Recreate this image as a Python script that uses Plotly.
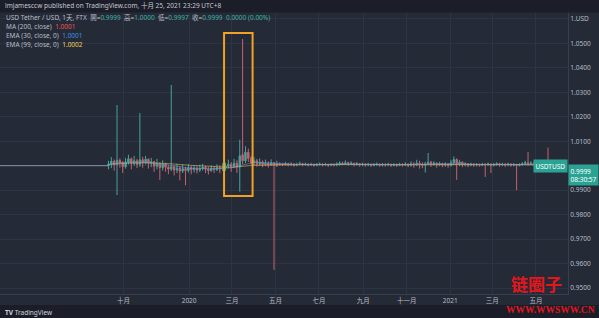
import plotly.graph_objects as go
from datetime import date, timedelta

# ---------------- data (price offsets in pips = 1e-4 from 1.0000) ----------------
bar_start = date(2019, 9, 10)   # first FTX bar (4-day bars)
bar_days = 4

open_p = [0, 6, 18, 4, 22, 12, -4, 14, 28, 10,
          20, 6, 24, 12, 26, 10, 16, -2, 10, -8,
          6, -6, -14, -4, -18, -10, -22, -12, -20, -8,
          -16, -10, -18, -12, -6, -14, -20, -10, -16, -8,
          -14, -8, -2, 6, -4, 10, -5, 45, 20, 55,
          30, 12, 20, 8, 14, 6, 10, 4, 12, 2,
          8, 6, 4, 8, 3, 6, 2, 5, 8, 4,
          6, 3, 5, 2, 4, 6, 3, 5, 2, 4,
          3, 6, 10, 8, 12, 7, 10, 5, 8, 4,
          6, 3, 5, 2, 4, 6, 2, 4, 3, 5,
          2, 4, 2, 5, 3, 6, 2, 8, 4, 10,
          6, 2, 8, 14, 6, 10, 4, 8, 3, 6,
          2, 12, 25, 8, 14, 4, 8, 2, 6, 3,
          5, 2, 6, 3, 7, 2, 5, 8, 4, 6,
          3, 6, 2, 5, 1, 4, 8, 12, 6, 10, 5, 8, 3, 6, 2, -1]
high_p = [20, 35, 25, 248, 30, 18, 32, 45, 33, 40,
          28, 215, 36, 40, 30, 32, 20, 28, 14, 22,
          12, 2, 330, 0, 8, -2, 5, -5, 6, 0,
          2, 0, 4, 8, 0, -4, 2, -2, 6, 2,
          10, 12, 25, 15, 28, 22, 106, 518, 80, 70,
          40, 35, 28, 30, 22, 25, 18, 26, 15, 20,
          14, 12, 16, 12, 14, 10, 12, 16, 12, 13,
          10, 12, 9, 11, 13, 10, 12, 8, 10, 9,
          14, 18, 16, 22, 16, 18, 12, 15, 11, 12,
          10, 12, 9, 11, 13, 9, 11, 10, 12, 9,
          10, 9, 12, 10, 14, 10, 18, 14, 24, 20,
          14, 16, 52, 20, 18, 14, 16, 12, 14, 10,
          24, 38, 30, 24, 18, 14, 10, 12, 10, 11,
          9, 12, 10, 13, 9, 11, 14, 12, 12, 10,
          12, 10, 11, 8, 10, 15, 20, 56, 18, 14, 15, 10, 12, 9, 74, 0]
low_p = [-15, -10, -20, -120, -8, -30, -12, 5, -15, 0,
         -10, -5, -8, 5, -12, -6, -25, -15, -58, -20,
         -25, -35, -22, -40, -30, -60, -30, -80, -28, -35,
         -28, -32, -26, -20, -30, -36, -25, -30, -22, -30,
         -22, -20, -12, -25, -10, -30, -106, 5, 10, 15,
         5, 2, -4, 0, -6, -2, -8, 0, -426, -5,
         0, -2, 1, -3, 0, -4, -2, 1, -2, 0,
         -3, -1, -4, -2, 0, -3, -1, -5, -2, -3,
         -2, 0, 2, 3, 0, 2, -3, 0, -4, -2,
         -4, -2, -5, -3, -1, -4, -3, -4, -2, -5,
         -3, -5, -2, -4, -1, -6, -4, -8, -2, -12,
         -10, -28, 2, -5, 0, -8, -2, -6, -4, -8,
         -4, 2, -58, -2, -6, -3, -6, -2, -5, -3,
         -4, -2, -46, 0, -30, -3, 0, -4, -2, -5,
         -2, -4, -3, -100, -3, 0, 2, 0, 2, -2, 0, -4, -2, -5, -4, -3]
close_p = [6, 18, 4, 22, 12, -4, 14, 28, 10, 20,
           6, 24, 12, 26, 10, 16, -2, 10, -8, 6,
           -6, -14, -4, -18, -10, -22, -12, -20, -8, -16,
           -10, -18, -12, -6, -14, -20, -10, -16, -8, -14,
           -8, -2, 6, -4, 10, -5, 40, 20, 55, 30,
           12, 20, 8, 14, 6, 10, 4, 12, 2, 8,
           6, 4, 8, 3, 6, 2, 5, 8, 4, 6,
           3, 5, 2, 4, 6, 3, 5, 2, 4, 3,
           6, 10, 8, 12, 7, 10, 5, 8, 4, 6,
           3, 5, 2, 4, 6, 2, 4, 3, 5, 2,
           4, 2, 5, 3, 6, 2, 8, 4, 10, 6,
           2, 8, 14, 6, 10, 4, 8, 3, 6, 2,
           12, 25, 8, 14, 4, 8, 2, 6, 3, 5,
           2, 6, 3, 7, 2, 5, 8, 4, 6, 3,
           6, 2, 5, 1, 4, 8, 12, 6, 10, 5, 8, 3, 6, 2, 1, -1]

# flat segment before trading starts
flat_dates = ["2019-04-11", "2019-09-10"]
flat_price = [1.0000, 1.0000]

# moving averages (pips)
ma_dates = ["2019-09-10", "2019-10-01", "2019-11-01", "2019-12-01", "2020-01-01", "2020-02-01",
            "2020-03-01", "2020-04-01", "2020-05-01", "2020-06-01", "2020-07-01", "2020-08-01",
            "2020-09-01", "2020-10-01", "2020-11-01", "2020-12-01", "2021-01-01", "2021-02-01",
            "2021-03-01", "2021-04-01", "2021-05-01", "2021-05-22"]
ema30_p = [5, 14, 14, 4, -10, -13, -8, 14, 10, 5, 4, 7, 5, 3, 4, 6, 8, 6, 4, 5, 5, 1]
ema99_p = [5, 10, 12, 9, 2, -4, -7, 2, 4, 5, 5, 6, 6, 5, 4, 5, 6, 6, 5, 5, 4, 2]
ma200_p = [None, None, None, None, None, None, None, 2, 3, 4, 4, 5, 6, 5, 5, 5, 5, 5, 5, 4, 4, 1]

price_ticks = [0.95, 0.96, 0.97, 0.98, 0.99, 1.00, 1.01, 1.02, 1.03, 1.04, 1.05, 1.06]
price_labels = ["0.9500", "0.9600", "0.9700", "0.9800", "0.9900", "", "1.0100", "1.0200",
                "1.0300", "1.0400", "1.0500", "1.USD"]
time_ticks = ["2019-10-01", "2020-01-01", "2020-03-01", "2020-05-01", "2020-07-01", "2020-09-01",
              "2020-11-01", "2021-01-01", "2021-03-01", "2021-05-01"]
time_labels = ["十月", "2020", "三月", "五月", "七月", "九月", "十一月", "2021", "三月", "五月"]

# ---------------- figure ----------------
W, H = 599, 318
PL, PR, PT, PB = 0, 568, 13, 294


def px(x):
    return (x - PL) / (PR - PL)


def py(y):
    return (PB - y) / (PB - PT)


def to_price(v):
    return None if v is None else 1 + v / 10000.0


dates = [bar_start + timedelta(days=bar_days * i) for i in range(len(close_p))]

BG = "#252a37"
DARK = "#1b1e28"
GRID = "#2f3444"
UP = "#45a39a"
DN = "#c9606c"
TXT = "#b8bcc6"
FONT = "Noto Sans, Noto Sans CJK TC, sans-serif"

fig = go.Figure()
fig.add_trace(go.Scatter(x=flat_dates, y=flat_price, mode="lines",
                         line=dict(color="#8897a8", width=1), hoverinfo="skip", showlegend=False))
fig.add_trace(go.Candlestick(
    x=dates,
    open=[to_price(v) for v in open_p], high=[to_price(v) for v in high_p],
    low=[to_price(v) for v in low_p], close=[to_price(v) for v in close_p],
    increasing=dict(line=dict(color=UP, width=1), fillcolor=UP),
    decreasing=dict(line=dict(color=DN, width=1), fillcolor=DN),
    whiskerwidth=0, showlegend=False))
for vals, col in [(ma200_p, "#e05a66"), (ema99_p, "#d9c55a"), (ema30_p, "#5aa0d8")]:
    fig.add_trace(go.Scatter(x=ma_dates, y=[to_price(v) for v in vals], mode="lines",
                             line=dict(color=col, width=1), opacity=0.55,
                             hoverinfo="skip", showlegend=False))

fig.update_layout(
    width=W, height=H,
    margin=dict(l=PL, r=W - PR, t=PT, b=H - PB),
    paper_bgcolor=BG, plot_bgcolor=BG,
    font=dict(family=FONT, size=7, color=TXT),
    showlegend=False,
    xaxis=dict(type="date", range=["2019-04-11", "2021-06-15"], rangeslider=dict(visible=False),
               tickvals=time_ticks, ticktext=time_labels, showgrid=True, gridcolor=GRID, gridwidth=1,
               ticks="", ticklen=0, showline=True, linecolor="#3a3f4e", linewidth=1,
               tickfont=dict(size=6.5, color=TXT), zeroline=False, fixedrange=True),
    yaxis=dict(side="right", range=[0.94757, 1.0624], tickvals=price_ticks, ticktext=price_labels,
               showgrid=True, gridcolor=GRID, gridwidth=1, ticks="", showline=True,
               linecolor="#3a3f4e", linewidth=1, tickfont=dict(size=6.5, color=TXT),
               zeroline=False, fixedrange=True),
)

shapes = [
    dict(type="rect", xref="paper", yref="paper", x0=0, x1=px(W), y0=py(12.5), y1=py(0),
         fillcolor=DARK, line=dict(width=0), layer="above"),
    dict(type="rect", xref="paper", yref="paper", x0=0, x1=px(W), y0=py(H), y1=py(305),
         fillcolor=DARK, line=dict(width=0), layer="above"),
    dict(type="rect", xref="x", yref="y", x0="2020-02-19", x1="2020-03-30", y0=0.9876, y1=1.0542,
         line=dict(color="#f2a126", width=2), fillcolor="rgba(0,0,0,0)"),
]
fig.update_layout(shapes=shapes)

ann = []


def text(x, y, s, size=6.5, color=TXT, xanchor="left", yanchor="middle", family=FONT, **kw):
    ann.append(dict(xref="paper", yref="paper", x=px(x), y=py(y), text=s, showarrow=False,
                    xanchor=xanchor, yanchor=yanchor, font=dict(size=size, color=color, family=family),
                    **kw))


text(3, 6, "lmjamesccw published on TradingView.com, 十月 25, 2021 23:29 UTC+8", size=6.5, color="#c3c7d0")
G = "#3fb0a0"
line1 = ("USD Tether / USD, 1天, FTX  開=<span style='color:%s'>0.9999</span>  高=<span style='color:%s'>1.0000</span>"
         "  低=<span style='color:%s'>0.9997</span>  收=<span style='color:%s'>0.9999  0.0000 (0.00%%)</span>") % (G, G, G, G)
text(4, 17.5, line1)
text(4, 26.5, "MA (200, close)  <span style='color:#ef5350'>1.0001</span>")
text(4, 35.5, "EMA (30, close, 0)  <span style='color:#3d8fe0'>1.0001</span>")
text(4, 44.5, "EMA (99, close, 0)  <span style='color:#f0d050'>1.0002</span>")

# last price tags
ann.append(dict(xref="paper", yref="y", x=1, y=1.00005, text="USDTUSD", showarrow=False,
                xanchor="right", yanchor="middle", bgcolor="#2aa394", borderpad=1.5,
                font=dict(size=6.5, color="#ffffff", family=FONT)))
ann.append(dict(xref="paper", yref="y", x=1, y=1.0007, text="0.9999<br>08:30:57", showarrow=False,
                xanchor="left", yanchor="top", bgcolor="#2aa394", borderpad=1.5, align="left",
                font=dict(size=6.5, color="#ffffff", family=FONT)))

# footer
text(3, 312, "<b>TV</b> TradingView", size=6.5, color="#d1d4dc")
# watermark
text(536, 283, "<b>链圈子</b>", size=17, color="#e4161c", xanchor="center",
     family="Noto Sans CJK SC, sans-serif")
text(550, 309.5, "<b>WWW.WWSWW.CN</b>", size=9.5, color="#e4161c", xanchor="center",
     family="Liberation Serif, DejaVu Serif, serif")

fig.update_layout(annotations=ann)
fig.write_html("out.html")
